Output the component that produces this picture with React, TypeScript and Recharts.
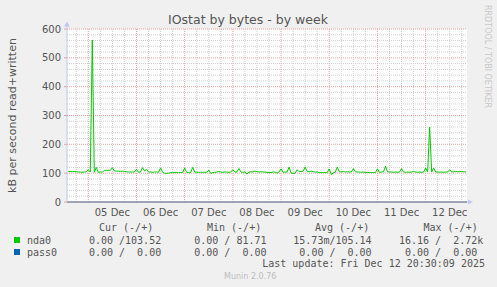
import React from 'react';
import { LineChart, Line, XAxis, YAxis, CartesianGrid, ReferenceLine } from 'recharts';

// hours relative to 05 Dec 00:00; first sample hour
const START_HOUR = -10;
const X_DOMAIN: [number, number] = [-10.6, 188.6];

// nda0 written, kB/s, one value per hour
const nda0Written = [
  105, 106, 105, 106, 105, 104, 104, 103, 104, 105,
  112, 104, 562, 103, 120, 103, 104, 104, 109, 110,
  110, 110, 119, 108, 107, 107, 106, 107, 106, 105,
  104, 104, 104, 104, 113, 103, 104, 119, 108, 113,
  104, 104, 103, 104, 104, 103, 118, 103, 100, 99,
  100, 102, 102, 102, 102, 102, 102, 102, 118, 103,
  102, 102, 120, 104, 103, 103, 103, 103, 103, 103,
  111, 99, 102, 103, 104, 106, 104, 103, 104, 104,
  103, 104, 112, 104, 104, 116, 104, 103, 104, 98,
  103, 105, 104, 107, 105, 104, 105, 104, 104, 103,
  102, 102, 104, 104, 100, 104, 115, 103, 104, 104,
  121, 101, 99, 100, 112, 105, 106, 107, 121, 106,
  105, 107, 105, 104, 104, 102, 102, 102, 102, 102,
  115, 95, 101, 103, 121, 105, 104, 106, 104, 105,
  104, 104, 116, 105, 104, 104, 103, 104, 102, 102,
  102, 102, 102, 102, 115, 103, 104, 105, 124, 105,
  104, 104, 103, 104, 103, 104, 116, 104, 103, 104,
  103, 104, 106, 104, 103, 104, 103, 104, 118, 104,
  260, 104, 118, 104, 104, 103, 104, 103, 104, 104,
  112, 104, 105, 106, 105, 106, 105, 105, 104,
];

const dayTicks = [12, 36, 60, 84, 108, 132, 156, 180];
const dayLabels = ['05 Dec', '06 Dec', '07 Dec', '08 Dec', '09 Dec', '10 Dec', '11 Dec', '12 Dec'];
const yTicks = [0, 100, 200, 300, 400, 500, 600];
const dayBoundaries = [0, 24, 48, 72, 96, 120, 144, 168];
const sixHourLines = [-6, 6, 12, 18, 30, 36, 42, 54, 60, 66, 78, 84, 90, 102, 108, 114, 126, 132, 138, 150, 156, 162, 174, 180, 186];
const minorY = [20, 40, 60, 80, 120, 140, 160, 180, 220, 240, 260, 280, 320, 340, 360, 380, 420, 440, 460, 480, 520, 540, 560, 580];
const majorY = [100, 200, 300, 400, 500, 600];

const legendHeaders = ['Cur (-/+)', 'Min (-/+)', 'Avg (-/+)', 'Max (-/+)'];
const nda0Stats = ['0.00 /103.52', '0.00 / 81.71', '15.73m/105.14', '16.16 /  2.72k'];
const pass0Stats = ['0.00 /  0.00', '0.00 /  0.00', '0.00 /  0.00', '0.00 /  0.00 '];

const data = nda0Written.map((v, i) => ({ hour: START_HOUR + i, written: v }));

const MGRID = '#e6a3a3';
const GRID = '#cfcfcf';
const AXIS = '#c4c8ee';
const TEXT = '#555555';
const SANS = "'DejaVu Sans', sans-serif";
const MONO = "'DejaVu Sans Mono', monospace";

const headerX = [99, 207, 315, 423.5];
const statEnd = [161.2, 266.5, 371.6, 483.3];

export default function App() {
  return (
    <div style={{ position: 'absolute', left: 0, top: 0, width: 497, height: 287, background: '#f0f0f0' }}>
      <LineChart width={497} height={287} data={data} margin={{ top: 29, right: 30, bottom: 65, left: 0 }}>
        <CartesianGrid horizontal={false} vertical={false} fill="#ffffff" stroke="none" />
        <XAxis
          type="number"
          dataKey="hour"
          domain={X_DOMAIN}
          ticks={dayTicks}
          tickFormatter={(v: number) => dayLabels[dayTicks.indexOf(v)] ?? ''}
          height={20}
          tickLine={false}
          tickSize={0}
          tickMargin={7}
          axisLine={{ stroke: AXIS }}
          tick={{ fontSize: 10, fill: TEXT, fontFamily: SANS }}
          interval={0}
          allowDataOverflow
        />
        <YAxis
          type="number"
          domain={[0, 600]}
          ticks={yTicks}
          width={67}
          tickLine={{ stroke: MGRID }}
          tickSize={3}
          tickMargin={3}
          axisLine={{ stroke: AXIS }}
          tick={{ fontSize: 10, fill: TEXT, fontFamily: SANS }}
          interval={0}
          allowDataOverflow
        />
        {minorY.map((v) => (
          <ReferenceLine key={'my' + v} y={v} stroke={GRID} strokeDasharray="1 1" />
        ))}
        {sixHourLines.map((v) => (
          <ReferenceLine key={'mx' + v} x={v} stroke={GRID} strokeDasharray="1 1" />
        ))}
        {majorY.map((v) => (
          <ReferenceLine key={'My' + v} y={v} stroke={MGRID} strokeDasharray="1 1" />
        ))}
        {dayBoundaries.map((v) => (
          <ReferenceLine key={'Mx' + v} x={v} stroke={MGRID} strokeDasharray="1 1" />
        ))}
        <Line
          type="linear"
          dataKey="written"
          stroke="#00cc00"
          strokeWidth={1}
          dot={false}
          activeDot={false}
          isAnimationActive={false}
        />
        <ReferenceLine y={0} stroke="#000000" strokeWidth={1} />
      </LineChart>
      <svg
        width={497}
        height={287}
        style={{ position: 'absolute', left: 0, top: 0, pointerEvents: 'none' }}
      >
        <text x={248} y={24} textAnchor="middle" fontFamily={SANS} fontSize={12.5} fill={TEXT}>
          IOstat by bytes - by week
        </text>
        <text
          x={15.5}
          y={115.5}
          textAnchor="middle"
          fontFamily={SANS}
          fontSize={11}
          fill={TEXT}
          transform="rotate(-90 15.5 115.5)"
        >
          kB per second read+written
        </text>
        <text
          x={485}
          y={5}
          textAnchor="start"
          fontFamily={SANS}
          fontSize={8}
          fill="#c8c8c8"
          transform="rotate(90 485 5)"
        >
          RRDTOOL / TOBI OETIKER
        </text>
        <polygon points="64,26.5 70,26.5 67,21.5" fill={AXIS} />
        <line x1={67} y1={26} x2={67} y2={29} stroke={AXIS} />
        <polygon points="468,199.5 468,204.5 473,202" fill={AXIS} />
        <line x1={467} y1={202} x2={468} y2={202} stroke={AXIS} />

        {legendHeaders.map((h, i) => (
          <text key={h} x={headerX[i]} y={230.5} fontFamily={MONO} fontSize={10} fill={TEXT} xmlSpace="preserve">
            {h}
          </text>
        ))}
        <rect x={14} y={237} width={6} height={6} fill="#00cc00" />
        <text x={27} y={243.5} fontFamily={MONO} fontSize={10} fill={TEXT}>nda0</text>
        {nda0Stats.map((s, i) => (
          <text key={'n' + i} x={statEnd[i]} y={243.5} textAnchor="end" fontFamily={MONO} fontSize={10} fill={TEXT} xmlSpace="preserve">
            {s}
          </text>
        ))}
        <rect x={14} y={249} width={6} height={6} fill="#0066b3" />
        <text x={27} y={255.5} fontFamily={MONO} fontSize={10} fill={TEXT}>pass0</text>
        {pass0Stats.map((s, i) => (
          <text key={'p' + i} x={statEnd[i]} y={255.5} textAnchor="end" fontFamily={MONO} fontSize={10} fill={TEXT} xmlSpace="preserve">
            {s}
          </text>
        ))}
        <text x={485} y={266.5} textAnchor="end" fontFamily={MONO} fontSize={10} fill={TEXT} xmlSpace="preserve">
          Last update: Fri Dec 12 20:30:09 2025
        </text>
        <text x={224} y={279} fontFamily={SANS} fontSize={8} fill="#bdbdbd">
          Munin 2.0.76
        </text>
      </svg>
    </div>
  );
}
